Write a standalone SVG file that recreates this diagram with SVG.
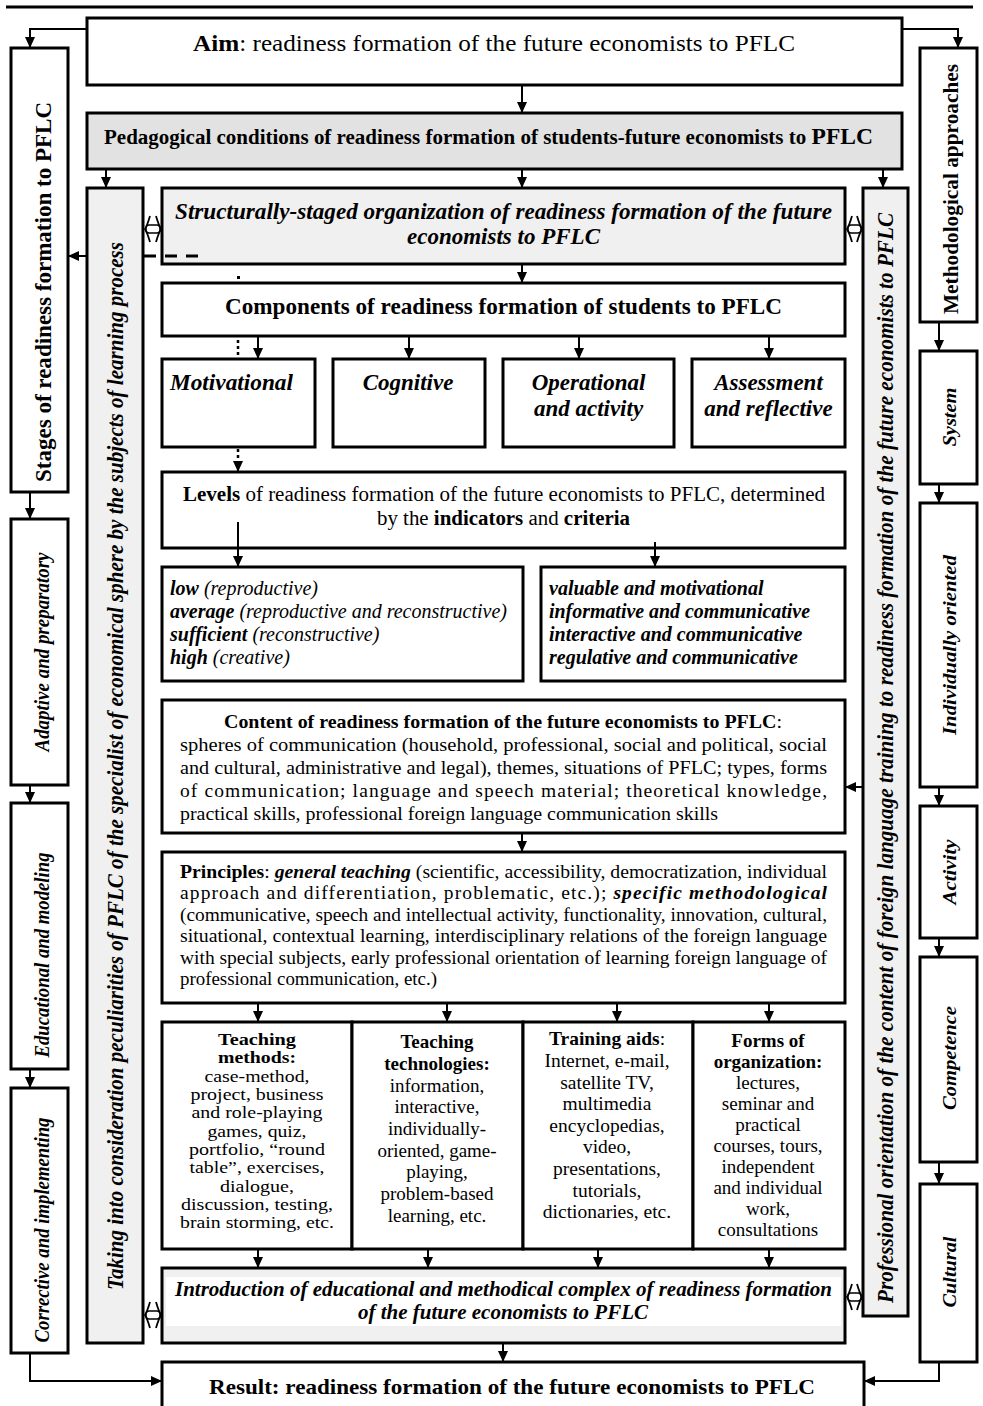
<svg xmlns="http://www.w3.org/2000/svg" width="983" height="1406" viewBox="0 0 983 1406">
<defs>
<marker id="ah" markerUnits="userSpaceOnUse" markerWidth="12" markerHeight="12" viewBox="0 0 12 12" refX="11" refY="6" orient="auto">
<path d="M0,1 L11,6 L0,11 Z" fill="#000"/>
</marker>
<style>
.box{fill:#fff;stroke:#000;stroke-width:3}
.gbox{fill:#f0f0f0;stroke:#000;stroke-width:3}
.dbox{fill:#e2e2e2;stroke:#000;stroke-width:3}
.arr{fill:none;stroke:#000;stroke-width:2;marker-end:url(#ah)}
.band{fill:#fff;stroke:#000;stroke-width:1.5}
.chev{fill:none;stroke:#000;stroke-width:1.8}
text{font-family:"Liberation Serif","Times New Roman",serif;fill:#000}
.b{font-weight:bold}
.i{font-style:italic}
.bi{font-weight:bold;font-style:italic}
.c{text-anchor:middle}
</style>
</defs>
<line x1="6" y1="7" x2="973" y2="7" stroke="#000" stroke-width="3"/>

<g id="aim">
<rect class="box" x="87" y="18" width="815" height="67"/>
<text x="494" y="51" class="c" font-size="23" textLength="602" lengthAdjust="spacingAndGlyphs"><tspan class="b">Aim</tspan>: readiness formation of the future economists to PFLC</text>
</g>

<g id="pedagogical">
<rect class="dbox" x="87" y="113" width="815" height="56"/>
<text x="104" y="144" class="b" font-size="20.5" textLength="769" lengthAdjust="spacingAndGlyphs">Pedagogical conditions of readiness formation of students-future economists to <tspan font-size="23">PFLC</tspan></text>
</g>

<g id="stages">
<rect class="box" x="11" y="48" width="57" height="444"/>
<text transform="translate(51,292) rotate(-90)" class="c b" font-size="24" textLength="380" lengthAdjust="spacingAndGlyphs">Stages of readiness formation to PFLC</text>
</g>
<g id="adaptive">
<rect class="box" x="11" y="519" width="57" height="266"/>
<text transform="translate(49,652) rotate(-90)" class="c bi" font-size="21" textLength="199" lengthAdjust="spacingAndGlyphs">Adaptive and preparatory</text>
</g>
<g id="educational">
<rect class="box" x="11" y="803" width="57" height="266"/>
<text transform="translate(49,955) rotate(-90)" class="c bi" font-size="21" textLength="205" lengthAdjust="spacingAndGlyphs">Educational and modeling</text>
</g>
<g id="corrective">
<rect class="box" x="11" y="1088" width="57" height="265"/>
<text transform="translate(49,1230) rotate(-90)" class="c bi" font-size="21" textLength="225" lengthAdjust="spacingAndGlyphs">Corrective and implementing</text>
</g>

<g id="peculiarities">
<rect class="gbox" x="87" y="188" width="56" height="1155"/>
<text transform="translate(123,766) rotate(-90)" class="c bi" font-size="22.5" textLength="1048" lengthAdjust="spacingAndGlyphs">Taking into consideration peculiarities of PFLC of the specialist of economical sphere by the subjects of learning process</text>
</g>

<g id="orientation">
<rect class="gbox" x="863" y="188" width="45" height="1128"/>
<text transform="translate(893,758) rotate(-90)" class="c bi" font-size="22.5" textLength="1090" lengthAdjust="spacingAndGlyphs">Professional orientation of the content of foreign language training to readiness formation of the future economists to PFLC</text>
</g>

<g id="methodological">
<rect class="box" x="920" y="48" width="57" height="274"/>
<text transform="translate(958,189) rotate(-90)" class="c b" font-size="22" textLength="250" lengthAdjust="spacingAndGlyphs">Methodological approaches</text>
</g>
<g id="system">
<rect class="box" x="920" y="351" width="57" height="133"/>
<text transform="translate(955.5,417) rotate(-90)" class="c bi" font-size="19.5" textLength="59" lengthAdjust="spacingAndGlyphs">System</text>
</g>
<g id="individually">
<rect class="box" x="920" y="503" width="57" height="284"/>
<text transform="translate(955.5,645) rotate(-90)" class="c bi" font-size="19.5" textLength="180" lengthAdjust="spacingAndGlyphs">Individually oriented</text>
</g>
<g id="activity">
<rect class="box" x="920" y="806" width="57" height="132"/>
<text transform="translate(955.5,872) rotate(-90)" class="c bi" font-size="19.5" textLength="65" lengthAdjust="spacingAndGlyphs">Activity</text>
</g>
<g id="competence">
<rect class="box" x="920" y="957" width="57" height="205"/>
<text transform="translate(955.5,1058) rotate(-90)" class="c bi" font-size="19.5" textLength="104" lengthAdjust="spacingAndGlyphs">Competence</text>
</g>
<g id="cultural">
<rect class="box" x="920" y="1184" width="57" height="178"/>
<text transform="translate(955.5,1272) rotate(-90)" class="c bi" font-size="19.5" textLength="71" lengthAdjust="spacingAndGlyphs">Cultural</text>
</g>

<g id="structurally">
<rect class="gbox" x="162" y="188" width="683" height="76"/>
<text x="503.5" y="219" class="c bi" font-size="22.5" textLength="657" lengthAdjust="spacingAndGlyphs">Structurally-staged organization of readiness formation of the future</text>
<text x="503.5" y="244" class="c bi" font-size="22.5" textLength="193" lengthAdjust="spacingAndGlyphs">economists to PFLC</text>
</g>

<g id="components">
<rect class="box" x="162" y="283" width="683" height="53"/>
<text x="503.5" y="314" class="c b" font-size="22.5" textLength="557" lengthAdjust="spacingAndGlyphs">Components of readiness formation of students to PFLC</text>
</g>

<g id="motivational">
<rect class="box" x="162" y="359" width="153" height="88"/>
<text x="170" y="390" class="bi" font-size="23" textLength="123" lengthAdjust="spacingAndGlyphs">Motivational</text>
</g>
<g id="cognitive">
<rect class="box" x="333" y="359" width="152" height="88"/>
<text x="408" y="390" class="c bi" font-size="23">Cognitive</text>
</g>
<g id="operational">
<rect class="box" x="503" y="359" width="171" height="88"/>
<text x="588.5" y="390" class="c bi" font-size="23">Operational</text>
<text x="588.5" y="416" class="c bi" font-size="23">and activity</text>
</g>
<g id="assessment">
<rect class="box" x="692" y="359" width="153" height="88"/>
<text x="768.5" y="390" class="c bi" font-size="23">Assessment</text>
<text x="768.5" y="416" class="c bi" font-size="23">and reflective</text>
</g>

<g id="levels">
<rect class="box" x="162" y="472" width="683" height="76"/>
<text x="504" y="501" class="c" font-size="20.5" textLength="642" lengthAdjust="spacingAndGlyphs"><tspan class="b">Levels</tspan> of readiness formation of the future economists to PFLC, determined</text>
<text x="503.5" y="525" class="c" font-size="20.5" textLength="253" lengthAdjust="spacingAndGlyphs">by the <tspan class="b">indicators</tspan> and <tspan class="b">criteria</tspan></text>
</g>

<g id="level-values">
<rect class="box" x="162" y="567" width="361" height="114"/>
<text x="170" y="595" class="i" font-size="20"><tspan class="b">low</tspan> (reproductive)</text>
<text x="170" y="618" class="i" font-size="20" textLength="337" lengthAdjust="spacingAndGlyphs"><tspan class="b">average</tspan> (reproductive and reconstructive)</text>
<text x="170" y="641" class="i" font-size="20"><tspan class="b">sufficient</tspan> (reconstructive)</text>
<text x="170" y="664" class="i" font-size="20"><tspan class="b">high</tspan> (creative)</text>
</g>

<g id="criteria-values">
<rect class="box" x="541" y="567" width="304" height="114"/>
<text x="549" y="595" class="bi" font-size="20">valuable and motivational</text>
<text x="549" y="618" class="bi" font-size="20" textLength="261" lengthAdjust="spacingAndGlyphs">informative and communicative</text>
<text x="549" y="641" class="bi" font-size="20">interactive and communicative</text>
<text x="549" y="664" class="bi" font-size="20">regulative and communicative</text>
</g>

<g id="content">
<rect class="box" x="162" y="700" width="683" height="133"/>
<text x="224" y="728" font-size="19.5" textLength="558" lengthAdjust="spacingAndGlyphs"><tspan class="b">Content of readiness formation of the future economists to PFLC</tspan>:</text>
<text x="180" y="751" font-size="19.5" textLength="647" lengthAdjust="spacingAndGlyphs">spheres of communication (household, professional, social and political, social</text>
<text x="180" y="774" font-size="19.5" textLength="647" lengthAdjust="spacingAndGlyphs">and cultural, administrative and legal), themes, situations of PFLC; types, forms</text>
<text x="180" y="797" font-size="19.5" textLength="647" lengthAdjust="spacing">of communication; language and speech material; theoretical knowledge,</text>
<text x="180" y="820" font-size="19.5" textLength="538" lengthAdjust="spacingAndGlyphs">practical skills, professional foreign language communication skills</text>
</g>

<g id="principles">
<rect class="box" x="162" y="852" width="683" height="151"/>
<text x="180" y="878" font-size="19.5" textLength="647" lengthAdjust="spacingAndGlyphs"><tspan class="b">Principles</tspan>: <tspan class="bi">general teaching</tspan> (scientific, accessibility, democratization, individual</text>
<text x="180" y="899" font-size="19.5" textLength="647" lengthAdjust="spacing">approach and differentiation, problematic, etc.); <tspan class="bi">specific methodological</tspan></text>
<text x="180" y="921" font-size="19.5" textLength="647" lengthAdjust="spacingAndGlyphs">(communicative, speech and intellectual activity, functionality, innovation, cultural,</text>
<text x="180" y="942" font-size="19.5" textLength="647" lengthAdjust="spacingAndGlyphs">situational, contextual learning, interdisciplinary relations of the foreign language</text>
<text x="180" y="964" font-size="19.5" textLength="647" lengthAdjust="spacingAndGlyphs">with special subjects, early professional orientation of learning foreign language of</text>
<text x="180" y="985" font-size="19.5" textLength="257" lengthAdjust="spacingAndGlyphs">professional communication, etc.)</text>
</g>

<g id="teaching-methods">
<rect class="box" x="162" y="1022" width="190" height="227"/>
<g font-size="16.5">
<text x="257" y="1045" class="c b" textLength="78" lengthAdjust="spacingAndGlyphs">Teaching</text>
<text x="257" y="1063" class="c b" textLength="78" lengthAdjust="spacingAndGlyphs">methods:</text>
<text x="257" y="1082" class="c" textLength="105" lengthAdjust="spacingAndGlyphs">case-method,</text>
<text x="257" y="1100" class="c" textLength="133" lengthAdjust="spacingAndGlyphs">project, business</text>
<text x="257" y="1118" class="c" textLength="131" lengthAdjust="spacingAndGlyphs">and role-playing</text>
<text x="257" y="1137" class="c" textLength="99" lengthAdjust="spacingAndGlyphs">games, quiz,</text>
<text x="257" y="1155" class="c" textLength="136" lengthAdjust="spacingAndGlyphs">portfolio, “round</text>
<text x="257" y="1173" class="c" textLength="135" lengthAdjust="spacingAndGlyphs">table”, exercises,</text>
<text x="257" y="1192" class="c" textLength="74" lengthAdjust="spacingAndGlyphs">dialogue,</text>
<text x="257" y="1210" class="c" textLength="152" lengthAdjust="spacingAndGlyphs">discussion, testing,</text>
<text x="257" y="1228" class="c" textLength="154" lengthAdjust="spacingAndGlyphs">brain storming, etc.</text>
</g>
</g>

<g id="teaching-technologies">
<rect class="box" x="352" y="1022" width="171" height="227"/>
<g font-size="19">
<text x="437" y="1048" class="c b">Teaching</text>
<text x="437" y="1070" class="c b">technologies:</text>
<text x="437" y="1092" class="c">information,</text>
<text x="437" y="1113" class="c">interactive,</text>
<text x="437" y="1135" class="c">individually-</text>
<text x="437" y="1157" class="c">oriented, game-</text>
<text x="437" y="1178" class="c">playing,</text>
<text x="437" y="1200" class="c">problem-based</text>
<text x="437" y="1222" class="c">learning, etc.</text>
</g>
</g>

<g id="training-aids">
<rect class="box" x="523" y="1022" width="170" height="227"/>
<g font-size="19.5">
<text x="607" y="1045" class="c"><tspan class="b">Training aids</tspan>:</text>
<text x="607" y="1067" class="c">Internet, e-mail,</text>
<text x="607" y="1089" class="c">satellite TV,</text>
<text x="607" y="1110" class="c">multimedia</text>
<text x="607" y="1132" class="c">encyclopedias,</text>
<text x="607" y="1153" class="c">video,</text>
<text x="607" y="1175" class="c">presentations,</text>
<text x="607" y="1197" class="c">tutorials,</text>
<text x="607" y="1218" class="c">dictionaries, etc.</text>
</g>
</g>

<g id="forms">
<rect class="box" x="693" y="1022" width="152" height="227"/>
<g font-size="19">
<text x="768" y="1047" class="c b">Forms of</text>
<text x="768" y="1068" class="c b">organization:</text>
<text x="768" y="1089" class="c">lectures,</text>
<text x="768" y="1110" class="c">seminar and</text>
<text x="768" y="1131" class="c">practical</text>
<text x="768" y="1152" class="c">courses, tours,</text>
<text x="768" y="1173" class="c">independent</text>
<text x="768" y="1194" class="c">and individual</text>
<text x="768" y="1215" class="c">work,</text>
<text x="768" y="1236" class="c">consultations</text>
</g>
</g>

<g id="introduction">
<rect class="gbox" x="162" y="1268" width="683" height="75"/>
<rect x="166" y="1277" width="675" height="49" fill="#fff"/>
<text x="503.5" y="1296" class="c bi" font-size="22" textLength="657" lengthAdjust="spacingAndGlyphs">Introduction of educational and methodical complex of readiness formation</text>
<text x="503" y="1319" class="c bi" font-size="22" textLength="290" lengthAdjust="spacingAndGlyphs">of the future economists to PFLC</text>
</g>

<g id="result">
<rect class="box" x="162" y="1362" width="702" height="60"/>
<text x="512" y="1394" class="c b" font-size="22" textLength="606" lengthAdjust="spacingAndGlyphs">Result: readiness formation of the future economists to PFLC</text>
</g>

<g id="connectors">
<polyline class="arr" points="87,29 30,29 30,48"/>
<polyline class="arr" points="902,29 958,29 958,48"/>
<line class="arr" x1="522" y1="85" x2="522" y2="113"/>
<line class="arr" x1="106" y1="169" x2="106" y2="188"/>
<line class="arr" x1="522" y1="169" x2="522" y2="188"/>
<line class="arr" x1="883" y1="169" x2="883" y2="188"/>
<line class="arr" x1="522" y1="264" x2="522" y2="283"/>
<line class="arr" x1="87" y1="256" x2="68" y2="256"/>
<line x1="144" y1="256" x2="201" y2="256" stroke="#000" stroke-width="3" stroke-dasharray="12,9"/>
<rect x="237" y="276" width="3" height="3" fill="#000"/>
<line x1="238" y1="340" x2="238" y2="357" stroke="#000" stroke-width="2.5" stroke-dasharray="3,3"/>
<line class="arr" x1="258" y1="336" x2="258" y2="359"/>
<line class="arr" x1="409" y1="336" x2="409" y2="359"/>
<line class="arr" x1="579" y1="336" x2="579" y2="359"/>
<line class="arr" x1="769" y1="336" x2="769" y2="359"/>
<line x1="238" y1="449" x2="238" y2="462" stroke="#000" stroke-width="2.5" stroke-dasharray="3,3"/>
<line class="arr" x1="238" y1="462" x2="238" y2="472"/>
<line class="arr" x1="238" y1="522" x2="238" y2="567"/>
<line class="arr" x1="655" y1="542" x2="655" y2="567"/>
<line class="arr" x1="522" y1="833" x2="522" y2="852"/>
<line class="arr" x1="863" y1="787" x2="845" y2="787"/>
<line class="arr" x1="258" y1="1003" x2="258" y2="1022"/>
<line class="arr" x1="447" y1="1003" x2="447" y2="1022"/>
<line class="arr" x1="617" y1="1003" x2="617" y2="1022"/>
<line class="arr" x1="769" y1="1003" x2="769" y2="1022"/>
<line class="arr" x1="258" y1="1249" x2="258" y2="1268"/>
<line class="arr" x1="428" y1="1249" x2="428" y2="1268"/>
<line class="arr" x1="598" y1="1249" x2="598" y2="1268"/>
<line class="arr" x1="769" y1="1249" x2="769" y2="1268"/>
<line class="arr" x1="503" y1="1343" x2="503" y2="1362"/>
<polyline class="arr" points="30,1353 30,1381 162,1381"/>
<polyline class="arr" points="939,1362 939,1381 864,1381"/>
<line class="arr" x1="30" y1="492" x2="30" y2="519"/>
<line class="arr" x1="30" y1="785" x2="30" y2="803"/>
<line class="arr" x1="30" y1="1069" x2="30" y2="1088"/>
<line class="arr" x1="939" y1="322" x2="939" y2="351"/>
<line class="arr" x1="939" y1="484" x2="939" y2="503"/>
<line class="arr" x1="939" y1="787" x2="939" y2="806"/>
<line class="arr" x1="939" y1="938" x2="939" y2="957"/>
<line class="arr" x1="939" y1="1162" x2="939" y2="1184"/>
<g id="dbl-top-left">
<rect class="band" x="146" y="225" width="14" height="8" rx="3"/>
<path class="chev" d="M150,216 Q147,226 145,229 Q147,232 150,242"/>
<path class="chev" d="M156,216 Q159,226 161,229 Q159,232 156,242"/>
</g>
<g id="dbl-top-right">
<rect class="band" x="848" y="225" width="13" height="8" rx="3"/>
<path class="chev" d="M852,216 Q849,226 847,229 Q849,232 852,242"/>
<path class="chev" d="M857,216 Q860,226 862,229 Q860,232 857,242"/>
</g>
<g id="dbl-bottom-left">
<rect class="band" x="146" y="1311" width="14" height="8" rx="3"/>
<path class="chev" d="M150,1302 Q147,1312 145,1315 Q147,1318 150,1328"/>
<path class="chev" d="M156,1302 Q159,1312 161,1315 Q159,1318 156,1328"/>
</g>
<g id="dbl-bottom-right">
<rect class="band" x="848" y="1293" width="13" height="8" rx="3"/>
<path class="chev" d="M852,1284 Q849,1294 847,1297 Q849,1300 852,1310"/>
<path class="chev" d="M857,1284 Q860,1294 862,1297 Q860,1300 857,1310"/>
</g>
</g>
</svg>
